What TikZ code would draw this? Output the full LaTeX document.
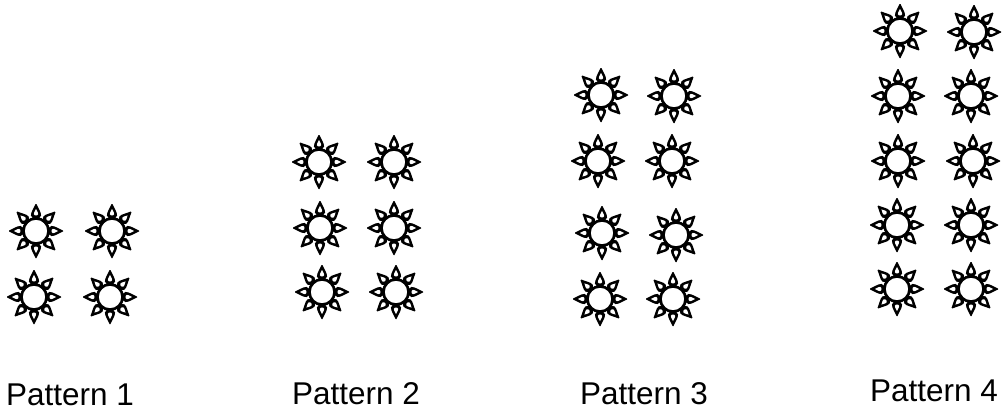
\documentclass[tikz,border=0pt]{standalone}
\usepackage{fontspec}
\setmainfont{Liberation Sans}
\tikzset{
  x=0.75pt,y=-0.75pt,
  patlabel/.style={anchor=base,inner sep=0pt,font=\fontsize{23.6}{28}\selectfont,text=black},
  sun/.pic={
    \foreach \a in {0,45,...,315}{
      \fill[black,rotate=\a] (10,-3.2) -- (13,-3.4) .. controls (14.5,-5.2) and (16.5,-5.6) .. (18.5,-4.6) -- (27,-0.5) -- (27,0.5) -- (18.5,4.6) .. controls (16.5,5.6) and (14.5,5.2) .. (13,3.4) -- (10,3.2) -- cycle;
      \fill[white,rotate=\a] (15.6,-0.9) .. controls (16.2,-2.2) and (17.2,-2.4) .. (18.4,-1.9) -- (22,0) -- (18.4,1.9) .. controls (17.2,2.4) and (16.2,2.2) .. (15.6,0.9) -- cycle;
    }
    \draw[draw=black,fill=white,line width=2pt] (0,0) circle (12.6);
  }
}
\begin{document}
\begin{tikzpicture}
\useasboundingbox (0,0) rectangle (1003,411);
\fill[white] (0,0) rectangle (1003,411);
\foreach \x/\y in {36/231,112/231,34/297,110/297,
  319/162,394/162,320/228,394/228,322/292,396/292,
  601/95,674/96,598/161,672/161,602/233,676/235,600/299,673/299,
  900/31,974/32,898/96,971/96,898/161,973/161,897/225,971/225,897/289,971/289}
  \pic at (\x,\y) {sun};
\node[patlabel] (p1) at (70,405) {Pattern 1};
\node[patlabel] (p2) at (356,404) {Pattern 2};
\node[patlabel] (p3) at (644,404) {Pattern 3};
\node[patlabel] (p4) at (934,401) {Pattern 4};
\end{tikzpicture}
\end{document}
